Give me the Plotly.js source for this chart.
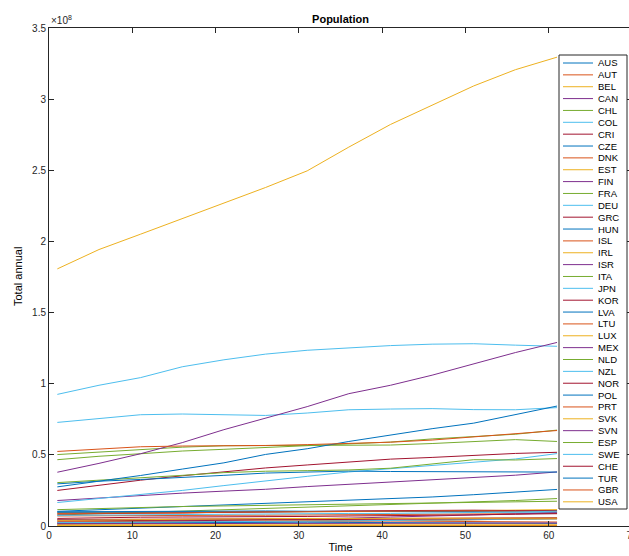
<!DOCTYPE html>
<html>
<head>
<meta charset="utf-8">
<script src="https://cdn.plot.ly/plotly-3.0.1.min.js"></script>
<style>
html,body{margin:0;padding:0;overflow:hidden;background:#fff;}
#chart{width:640px;height:556px;}
</style>
</head>
<body>
<div id="chart"></div>
<script>
// Time index (1 = 1960 ... 61 = 2020), sampled every 5 years
const time = [1, 6, 11, 16, 21, 26, 31, 36, 41, 46, 51, 56, 61];

// Population in millions
const AUS = [10.3, 11.4, 12.5, 13.9, 14.7, 15.8, 17.1, 18.0, 19.0, 20.4, 22.0, 23.8, 25.7];
const AUT = [7.05, 7.27, 7.47, 7.58, 7.55, 7.58, 7.68, 7.95, 8.01, 8.23, 8.36, 8.63, 8.92];
const BEL = [9.15, 9.46, 9.66, 9.80, 9.86, 9.86, 9.97, 10.14, 10.25, 10.48, 10.90, 11.27, 11.54];
const CAN = [17.9, 19.7, 21.3, 23.1, 24.5, 25.8, 27.7, 29.3, 30.7, 32.2, 34.0, 35.7, 38.0];
const CHL = [7.7, 8.6, 9.6, 10.4, 11.3, 12.3, 13.3, 14.4, 15.4, 16.1, 17.0, 17.9, 19.3];
const COL = [16.5, 19.3, 22.1, 25.0, 28.4, 31.9, 34.9, 38.0, 40.4, 42.6, 45.2, 47.1, 50.9];
const CRI = [1.33, 1.60, 1.86, 2.14, 2.41, 2.76, 3.12, 3.50, 3.92, 4.25, 4.55, 4.85, 5.09];
const CZE = [9.60, 9.71, 9.79, 10.06, 10.33, 10.34, 10.36, 10.33, 10.26, 10.23, 10.47, 10.55, 10.70];
const DNK = [4.58, 4.76, 4.93, 5.06, 5.12, 5.11, 5.14, 5.23, 5.34, 5.42, 5.55, 5.68, 5.83];
const EST = [1.21, 1.28, 1.36, 1.43, 1.48, 1.53, 1.57, 1.45, 1.40, 1.35, 1.33, 1.32, 1.33];
const FIN = [4.43, 4.56, 4.61, 4.71, 4.78, 4.90, 4.99, 5.11, 5.18, 5.25, 5.36, 5.48, 5.53];
const FRA = [46.6, 49.0, 50.8, 52.7, 53.9, 55.3, 56.7, 57.8, 59.0, 61.2, 62.9, 64.5, 67.4];
const DEU = [72.8, 75.6, 78.2, 78.7, 78.3, 77.7, 79.4, 81.7, 82.2, 82.5, 81.8, 81.7, 83.2];
const GRC = [8.33, 8.55, 8.79, 9.05, 9.64, 9.92, 10.16, 10.63, 10.81, 10.99, 11.12, 10.82, 10.70];
const HUN = [9.98, 10.15, 10.34, 10.53, 10.71, 10.58, 10.37, 10.33, 10.21, 10.09, 10.00, 9.84, 9.75];
const ISL = [0.176, 0.192, 0.205, 0.218, 0.228, 0.241, 0.255, 0.267, 0.281, 0.297, 0.318, 0.331, 0.366];
const IRL = [2.83, 2.88, 2.96, 3.18, 3.40, 3.54, 3.51, 3.61, 3.81, 4.16, 4.56, 4.70, 4.99];
const ISR = [2.11, 2.56, 2.97, 3.46, 3.88, 4.27, 4.66, 5.55, 6.29, 6.93, 7.62, 8.38, 9.22];
const ITA = [50.2, 52.1, 53.8, 55.4, 56.4, 56.6, 56.7, 56.8, 56.9, 57.97, 59.3, 60.7, 59.4];
const JPN = [92.5, 98.9, 104.3, 111.9, 116.8, 120.8, 123.5, 125.4, 126.8, 127.8, 128.1, 127.1, 126.3];
const KOR = [25.0, 28.7, 32.2, 35.3, 38.1, 40.8, 42.9, 45.1, 47.0, 48.2, 49.6, 51.0, 51.8];
const LVA = [2.12, 2.26, 2.36, 2.47, 2.51, 2.58, 2.66, 2.49, 2.37, 2.24, 2.10, 1.98, 1.90];
const LTU = [2.78, 2.97, 3.14, 3.30, 3.41, 3.55, 3.70, 3.63, 3.50, 3.32, 3.10, 2.90, 2.79];
const LUX = [0.313, 0.332, 0.339, 0.360, 0.364, 0.367, 0.382, 0.410, 0.436, 0.465, 0.507, 0.570, 0.630];
const MEX = [37.8, 44.0, 50.8, 58.6, 67.7, 75.9, 83.9, 93.0, 98.9, 106.0, 114.1, 121.9, 129.0];
const NLD = [11.5, 12.3, 13.0, 13.7, 14.1, 14.5, 15.0, 15.5, 15.9, 16.3, 16.6, 16.9, 17.4];
const NZL = [2.37, 2.63, 2.81, 3.08, 3.11, 3.25, 3.33, 3.67, 3.86, 4.09, 4.35, 4.61, 5.09];
const NOR = [3.58, 3.72, 3.88, 4.01, 4.09, 4.15, 4.24, 4.36, 4.49, 4.62, 4.89, 5.19, 5.38];
const POL = [29.6, 31.5, 32.7, 34.0, 35.6, 37.2, 38.1, 38.6, 38.3, 38.2, 38.0, 38.0, 37.9];
const PRT = [8.86, 8.99, 8.68, 9.09, 9.77, 10.01, 9.98, 10.03, 10.29, 10.50, 10.57, 10.36, 10.30];
const SVK = [3.99, 4.32, 4.54, 4.74, 4.98, 5.16, 5.30, 5.36, 5.39, 5.37, 5.39, 5.42, 5.46];
const SVN = [1.58, 1.63, 1.67, 1.74, 1.90, 1.97, 2.00, 1.99, 1.99, 2.00, 2.05, 2.06, 2.10];
const ESP = [30.5, 32.1, 33.9, 35.6, 37.5, 38.5, 38.9, 39.4, 40.6, 43.7, 46.6, 46.4, 47.4];
const SWE = [7.48, 7.73, 8.04, 8.19, 8.31, 8.35, 8.56, 8.83, 8.87, 9.01, 9.38, 9.80, 10.35];
const CHE = [5.33, 5.86, 6.18, 6.34, 6.32, 6.47, 6.71, 7.04, 7.18, 7.44, 7.82, 8.28, 8.64];
const TUR = [27.5, 31.4, 35.5, 40.0, 44.4, 50.3, 54.3, 59.4, 64.1, 68.4, 72.3, 78.5, 84.3];
const GBR = [52.4, 54.3, 55.7, 56.2, 56.3, 56.6, 57.2, 58.0, 58.9, 60.4, 62.8, 65.1, 67.1];
const USA = [180.7, 194.3, 205.1, 216.0, 227.2, 237.9, 249.6, 266.3, 282.2, 295.5, 309.3, 320.7, 329.5];

const countries = ['AUS','AUT','BEL','CAN','CHL','COL','CRI','CZE','DNK','EST','FIN','FRA','DEU','GRC','HUN','ISL','IRL','ISR','ITA','JPN','KOR','LVA','LTU','LUX','MEX','NLD','NZL','NOR','POL','PRT','SVK','SVN','ESP','SWE','CHE','TUR','GBR','USA'];
const series = [AUS,AUT,BEL,CAN,CHL,COL,CRI,CZE,DNK,EST,FIN,FRA,DEU,GRC,HUN,ISL,IRL,ISR,ITA,JPN,KOR,LVA,LTU,LUX,MEX,NLD,NZL,NOR,POL,PRT,SVK,SVN,ESP,SWE,CHE,TUR,GBR,USA];

// y ticks (values in millions) and their labels (x 10^8)
const yTickVals = [0, 50, 100, 150, 200, 250, 300, 350];
const yTickText = ['0', '0.5', '1', '1.5', '2', '2.5', '3', '3.5'];
const xTickVals = [0, 10, 20, 30, 40, 50, 60, 70];

const palette = ['#0072BD','#D95319','#EDB120','#7E2F8E','#77AC30','#4DBEEE','#A2142F'];

const traces = countries.map((c, i) => ({
  type: 'scatter', mode: 'lines', name: c,
  x: time, y: series[i],
  line: {color: palette[i % palette.length], width: 1},
  showlegend: false
}));

// geometry (pixels) of the plot area inside the 640x556 layout
const W = 640, H = 556;
const M = {l: 49, r: 8, t: 28, b: 30};
const pw = W - M.l - M.r, ph = H - M.t - M.b;
const px = v => (v - M.l) / pw;
const py = v => (H - M.b - v) / ph;

const font = 'Liberation Sans, Arial, Helvetica, sans-serif';
const ink = '#262626';

// manual legend (compact, MATLAB-like)
const shapes = [{
  type: 'rect', xref: 'paper', yref: 'paper', layer: 'above',
  x0: px(559), x1: px(627), y0: py(509), y1: py(55),
  line: {color: ink, width: 1}, fillcolor: '#ffffff'
}];
const annotations = [{
  xref: 'paper', yref: 'paper', x: 0, y: 1, xanchor: 'left', yanchor: 'bottom',
  text: '×10<sup>8</sup>', showarrow: false, font: {family: font, size: 10, color: ink}
}, {
  xref: 'paper', yref: 'paper', x: px(18), y: 0.5, xanchor: 'center', yanchor: 'middle',
  text: 'Total annual', textangle: -90, showarrow: false, font: {family: font, size: 11, color: '#000'}
}];
countries.forEach((c, i) => {
  const yy = 63 + i * 11.86;
  shapes.push({
    type: 'line', xref: 'paper', yref: 'paper', layer: 'above',
    x0: px(563), x1: px(593), y0: py(yy), y1: py(yy),
    line: {color: palette[i % palette.length], width: 1}
  });
  annotations.push({
    xref: 'paper', yref: 'paper', x: px(596), y: py(yy), xanchor: 'left', yanchor: 'middle',
    text: c, showarrow: false, font: {family: font, size: 9.5, color: '#000'}
  });
});

const layout = {
  width: W, height: H,
  margin: M,
  paper_bgcolor: '#ffffff', plot_bgcolor: '#ffffff',
  font: {family: font, size: 10, color: ink},
  title: {text: '<b>Population</b>', font: {family: font, size: 11, color: '#000'},
          xref: 'paper', x: 0.5, xanchor: 'center', yref: 'container', y: 1 - 19 / H, yanchor: 'middle'},
  xaxis: {
    range: [0, 70], tickvals: xTickVals, ticks: 'inside', ticklen: 5, tickcolor: ink,
    showgrid: false, zeroline: false, showline: true, linecolor: ink, linewidth: 1, mirror: 'ticks',
    tickfont: {family: font, size: 10, color: ink},
    title: {text: 'Time', font: {family: font, size: 11, color: '#000'}, standoff: 3}
  },
  yaxis: {
    range: [0, 350], tickvals: yTickVals, ticktext: yTickText, ticks: 'inside', ticklen: 5, tickcolor: ink,
    showgrid: false, zeroline: false, showline: true, linecolor: ink, linewidth: 1, mirror: 'ticks',
    tickfont: {family: font, size: 10, color: ink}
  },
  shapes: shapes,
  annotations: annotations
};

Plotly.newPlot('chart', traces, layout, {displayModeBar: false, staticPlot: true});
</script>
</body>
</html>
